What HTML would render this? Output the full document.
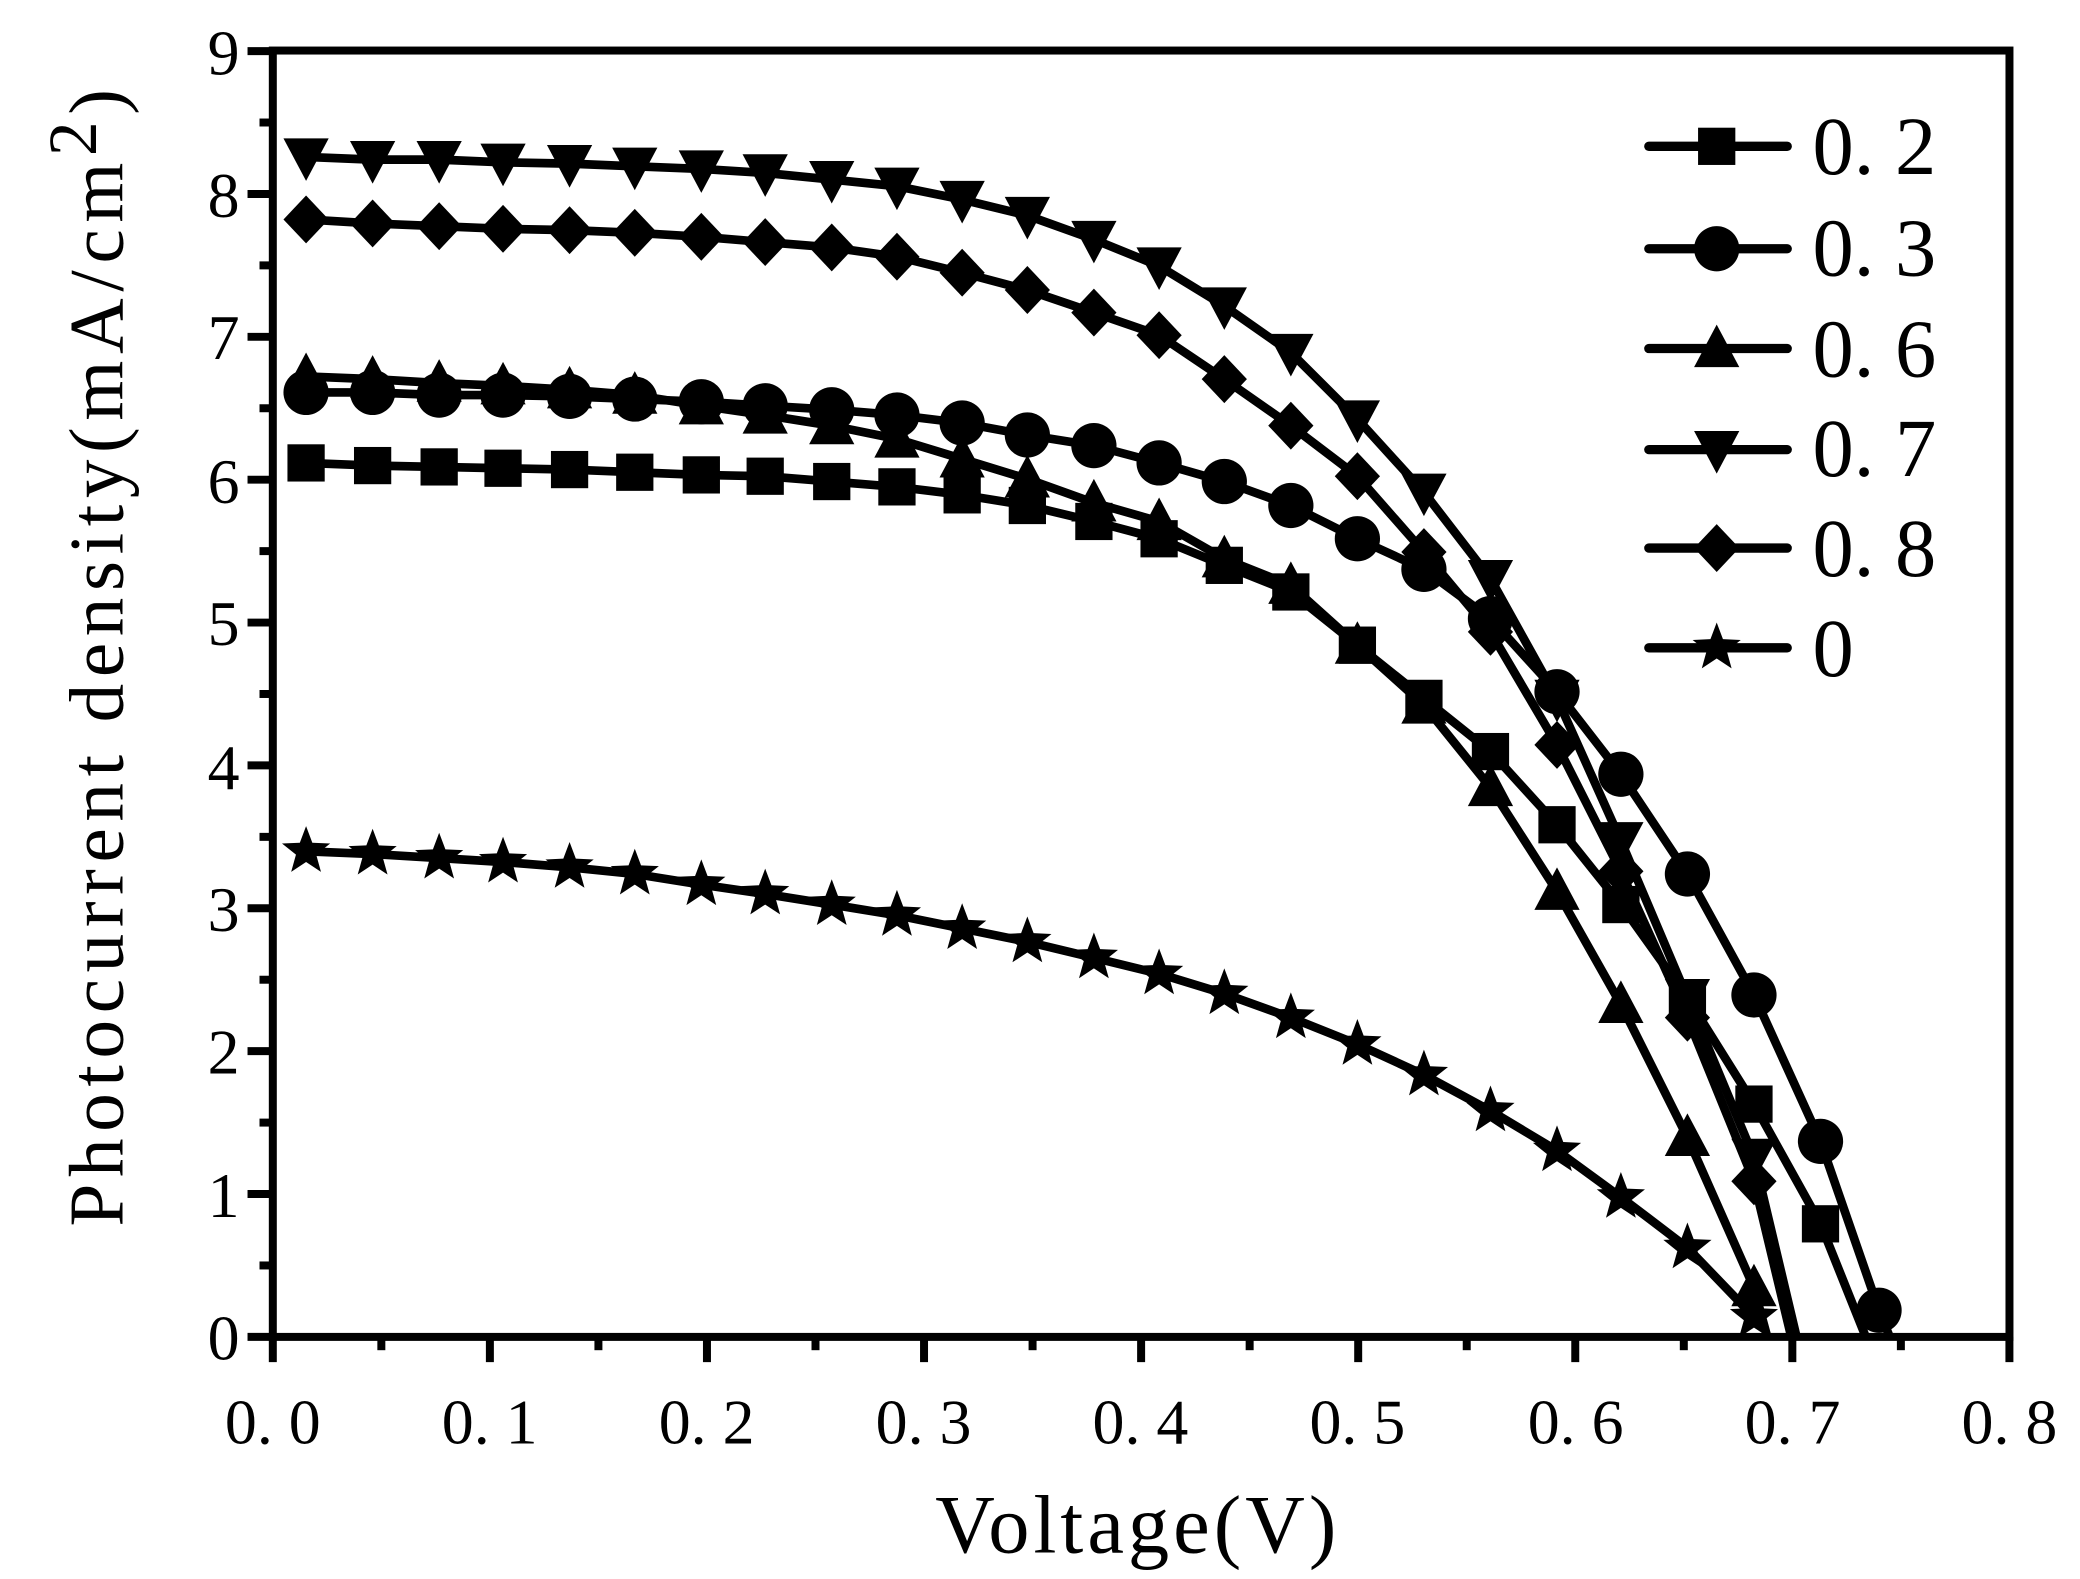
<!DOCTYPE html>
<html><head><meta charset="utf-8"><style>
html,body{margin:0;padding:0;background:#fff;}
svg{display:block;}
text{font-family:"Liberation Serif","Noto Serif CJK SC",serif;fill:#000;}
</style></head><body>
<svg id="s" width="2080" height="1579" viewBox="0 0 1563 1187" preserveAspectRatio="none" xmlns="http://www.w3.org/2000/svg">
<rect x="0" y="0" width="1563" height="1187" fill="#fff"/>
<g id="data"></g>
<g stroke="#000" stroke-width="6" fill="none">
<rect x="205" y="38" width="1305" height="967"/>
</g>
<g id="ticks" stroke="#000" stroke-width="6"></g>
<g font-size="48" text-anchor="end">
<text x="180" y="56">9</text><text x="180" y="163">8</text><text x="180" y="270">7</text>
<text x="180" y="378">6</text><text x="180" y="485">5</text><text x="180" y="593">4</text>
<text x="180" y="700">3</text><text x="180" y="807">2</text><text x="180" y="915">1</text>
<text x="180" y="1022">0</text>
</g>
<g font-size="48" text-anchor="middle">
<text x="205" y="1085">0. 0</text><text x="368" y="1085">0. 1</text><text x="531" y="1085">0. 2</text>
<text x="694" y="1085">0. 3</text><text x="857" y="1085">0. 4</text><text x="1020" y="1085">0. 5</text>
<text x="1184" y="1085">0. 6</text><text x="1347" y="1085">0. 7</text><text x="1510" y="1085">0. 8</text>
</g>
<text x="855" y="1167" font-size="62" text-anchor="middle" letter-spacing="3">Voltage(V)</text>
<text transform="translate(92,492) rotate(-90)" font-size="58" text-anchor="middle" letter-spacing="5">Photocurrent density(mA/cm<tspan font-size="52" dy="-20">2</tspan><tspan dy="20">)</tspan></text>
<g font-size="62">
<text x="1362" y="131">0. 2</text><text x="1362" y="207">0. 3</text><text x="1362" y="283">0. 6</text>
<text x="1362" y="358">0. 7</text><text x="1362" y="433">0. 8</text><text x="1362" y="508">0</text>
</g>
<g id="legend"></g>
</svg>
<script>
const NS="http://www.w3.org/2000/svg";
function el(p,t,a){const e=document.createElementNS(NS,t);for(const k in a)e.setAttribute(k,a[k]);p.appendChild(e);return e;}
const tk=document.getElementById('ticks');
for(let i=0;i<=18;i++){const y=1005-i*53.7;el(tk,'line',{x1:205,x2:i%2?195:186,y1:y,y2:y});}
for(let i=0;i<=16;i++){const x=205+i*81.56;el(tk,'line',{y1:1005,y2:i%2?1015:1024,x1:x,x2:x});}
const X=[230,280,330,378,428,477,527,575,625,674,723,772,822,871,920,970,1020,1070,1120,1170,1218,1268,1318,1368,1412];
function mk(ys,endPt){const pts=ys.map((y,i)=>[X[i],y]);return {pts,end:endPt};}
const S={
 sq:mk([348,350,351,352,353,355,357,358,362,366,372,380,392,405,425,445,485,525,565,620,680,750,830,920],[1402,1005]),
 ci:mk([295,295,297,297,298,300,302,305,308,312,318,327,335,348,362,380,405,428,465,520,582,657,748,858,985],[1420,1005]),
 tu:mk([283,285,288,290,293,297,305,312,320,330,345,360,378,392,420,440,485,530,592,670,755,855,968],[1328,1005]),
 td:mk([118,120,120,122,123,125,127,130,135,140,150,162,180,200,230,265,315,370,435,525,632,750,870],[1350,1005]),
 di:mk([165,168,170,172,173,175,178,182,186,193,205,218,235,252,285,320,358,415,475,560,655,765,888],[1346,1005]),
 st:mk([640,642,645,648,652,657,665,672,680,688,698,708,720,732,747,765,785,808,835,865,900,938,990],null)
};
function marker(g,type,x,y){
 const r=14;
 if(type==='sq')el(g,'rect',{x:x-r,y:y-r,width:2*r,height:2*r});
 else if(type==='ci')el(g,'circle',{cx:x,cy:y,r:r+3});
 else if(type==='tu')el(g,'polygon',{points:`${x},${y-r-4} ${x+r+3},${y+r} ${x-r-3},${y+r}`});
 else if(type==='td')el(g,'polygon',{points:`${x},${y+r+4} ${x+r+3},${y-r} ${x-r-3},${y-r}`});
 else if(type==='di')el(g,'polygon',{points:`${x},${y-r-4} ${x+r+3},${y} ${x},${y+r+4} ${x-r-3},${y}`});
 else if(type==='st'){let p=[];for(let k=0;k<10;k++){const a=-Math.PI/2+k*Math.PI/5,R=k%2?8:19;p.push((x+R*Math.cos(a)).toFixed(1)+','+(y+R*Math.sin(a)).toFixed(1));}el(g,'polygon',{points:p.join(' ')});}
}
const D=document.getElementById('data');
for(const t in S){const s=S[t];let pts=s.pts.slice();if(s.end)pts.push(s.end);
 el(D,'polyline',{points:pts.map(p=>p.join(',')).join(' '),fill:'none',stroke:'#000','stroke-width':6.5,'stroke-linejoin':'round'});}
for(const t in S){const g=el(D,'g',{fill:'#000'});S[t].pts.forEach(p=>marker(g,t,p[0],p[1]));}
const L=document.getElementById('legend');
const ly={sq:110,ci:187,tu:262,td:338,di:412,st:487};
for(const t in ly){el(L,'line',{x1:1239,x2:1343,y1:ly[t],y2:ly[t],stroke:'#000','stroke-width':7,'stroke-linecap':'round'});const g=el(L,'g',{fill:'#000'});marker(g,t,1290,ly[t]);}
</script>
</body></html>
